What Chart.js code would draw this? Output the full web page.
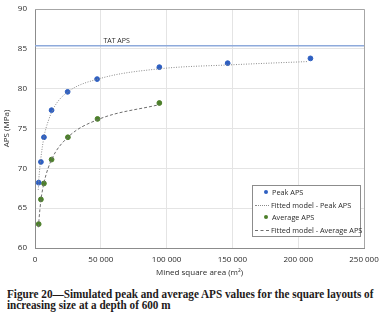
<!DOCTYPE html>
<html>
<head>
<meta charset="utf-8">
<script src="https://cdn.jsdelivr.net/npm/chart.js@4/dist/chart.umd.min.js"></script>
<style>
  body { margin: 0; background: #fff; width: 382px; height: 319px; overflow: hidden; position: relative; }
  #wrap { position: absolute; left: 0; top: 0; width: 382px; height: 285px; }
  #legend { position: absolute; left: 252px; top: 185px; width: 109px; height: 52px; border: 1px solid #8c8c8c;
            background: #fff; font-family: "Open Sans", sans-serif; font-size: 7.3px; color: #2a2a2a; box-sizing: border-box; }
  .row { position: absolute; left: 0; height: 12px; line-height: 12px; white-space: nowrap; }
  .dot { position: absolute; width: 4px; height: 4px; border-radius: 2px; top: 4px; left: 11px; }
  .ln { position: absolute; top: 6px; left: 2px; width: 14px; height: 0; }
  .txt { position: absolute; }
  #caption { position: absolute; left: 7px; top: 288.5px; width: 420px; font-family: "Liberation Serif", serif;
             font-weight: bold; font-size: 12.5px; line-height: 11px; color: #231a1a; white-space: nowrap;
             transform: scaleX(0.895); transform-origin: 0 0; }
</style>
</head>
<body>
<div id="wrap"><canvas id="c"></canvas></div>
<div id="legend">
  <div class="row" style="top:0px"><span class="dot" style="background:#2e5fc1"></span><span class="txt" style="left:19px">Peak APS</span></div>
  <div class="row" style="top:12.5px"><span class="ln" style="border-top:1px dotted #8a8a8a"></span><span class="txt" style="left:18px">Fitted model - Peak APS</span></div>
  <div class="row" style="top:25px"><span class="dot" style="background:#4c7f2a"></span><span class="txt" style="left:19px">Average APS</span></div>
  <div class="row" style="top:37.5px"><span class="ln" style="border-top:1px dashed #6e6e6e"></span><span class="txt" style="left:18px">Fitted model - Average APS</span></div>
</div>
<div id="caption">Figure 20—Simulated peak and average APS values for the square layouts of<br>increasing size at a depth of 600 m</div>
<script>
// mined square area (m2) and APS (MPa)
const peakArea = [2800, 4500, 6800, 12600, 24800, 47200, 94500, 146400, 209300];
const peakAPS = [68.2, 70.8, 73.9, 77.3, 79.6, 81.2, 82.7, 83.2, 83.8];
const avgArea = [2800, 4500, 6800, 12600, 25000, 47500, 94500];
const avgAPS = [63.0, 66.1, 68.1, 71.1, 73.9, 76.2, 78.2];

// fitted model curves
const peakFitArea = [2500, 3000, 4000, 5000, 7000, 10000, 15000, 25000, 50000, 95000, 150000, 207000];
const peakFitAPS = [67.3, 68.8, 70.6, 72.0, 74.1, 75.9, 77.8, 79.6, 81.3, 82.5, 83.0, 83.4];
const avgFitArea = [2600, 3000, 4500, 7000, 12600, 25000, 47500, 94500];
const avgFitAPS = [62.6, 63.5, 66.0, 68.3, 71.1, 73.9, 76.1, 78.0];

const tatAPS = 85.4;
const xTicks = [0, 50000, 100000, 150000, 200000, 250000];

const pts = (xs, ys) => xs.map((x, i) => ({ x: x, y: ys[i] }));
const fmt = v => v === 0 ? '0' : String(v).replace(/\B(?=(\d{3})+(?!\d))/g, ' ');

const tatLabel = {
  id: 'tatLabel',
  afterDatasetsDraw(chart) {
    const ctx = chart.ctx;
    const x = chart.scales.x.getPixelForValue(62000);
    const y = chart.scales.y.getPixelForValue(tatAPS);
    ctx.save();
    ctx.font = '7px "Open Sans", sans-serif';
    ctx.fillStyle = '#2a2a2a';
    ctx.textAlign = 'center';
    ctx.textBaseline = 'bottom';
    ctx.fillText('TAT APS', x, y - 1.5);
    ctx.restore();
  }
};

new Chart(document.getElementById('c'), {
  type: 'scatter',
  data: {
    datasets: [
      { label: 'TAT APS', data: pts([0, 250000], [tatAPS, tatAPS]), showLine: true, borderColor: '#8eaadb',
        borderWidth: 1.5, pointRadius: 0 },
      { label: 'Fitted model - Peak APS', data: pts(peakFitArea, peakFitAPS), showLine: true, borderColor: '#8a8a8a',
        borderWidth: 1, borderDash: [1, 1.5], pointRadius: 0, cubicInterpolationMode: 'monotone' },
      { label: 'Fitted model - Average APS', data: pts(avgFitArea, avgFitAPS), showLine: true, borderColor: '#6e6e6e',
        borderWidth: 1, borderDash: [3, 2], pointRadius: 0, cubicInterpolationMode: 'monotone' },
      { label: 'Peak APS', data: pts(peakArea, peakAPS), backgroundColor: '#2e5fc1', borderColor: '#2e5fc1',
        pointRadius: 2.4 },
      { label: 'Average APS', data: pts(avgArea, avgAPS), backgroundColor: '#4c7f2a', borderColor: '#4c7f2a',
        pointRadius: 2.4 }
    ]
  },
  options: {
    responsive: true,
    maintainAspectRatio: false,
    animation: false,
    layout: { padding: { left: 0, top: 9, right: 18, bottom: 4 } },
    plugins: { legend: { display: false }, tooltip: { enabled: false } },
    scales: {
      x: {
        type: 'linear', min: 0, max: 250000,
        afterBuildTicks: s => { s.ticks = xTicks.map(v => ({ value: v })); },
        afterFit: s => { s.height = 33; s.paddingRight = 0; s.paddingLeft = 0; },
        grid: { color: '#e4e4e4', drawTicks: false },
        border: { color: '#8c8c8c', width: 1 },
        ticks: { padding: 7, color: '#2a2a2a', font: { family: 'Open Sans', size: 8 }, maxRotation: 0, callback: v => fmt(v) },
        title: { display: true, text: 'Mined square area (m²)', color: '#2a2a2a', padding: { top: 0, bottom: 3 },
                 font: { family: 'Open Sans', size: 8 } }
      },
      y: {
        min: 60, max: 90,
        afterFit: s => { s.width = 35; s.paddingTop = 0; s.paddingBottom = 0; },
        grid: { color: '#e4e4e4', drawTicks: false },
        border: { color: '#8c8c8c', width: 1 },
        ticks: { stepSize: 5, padding: 8, color: '#2a2a2a', font: { family: 'Open Sans', size: 8 } },
        title: { display: true, text: 'APS (MPa)', color: '#2a2a2a', padding: { top: 2, bottom: 0 },
                 font: { family: 'Open Sans', size: 8 } }
      }
    }
  },
  plugins: [tatLabel, {
    id: 'frame',
    afterDraw(chart) {
      const a = chart.chartArea, ctx = chart.ctx;
      ctx.save();
      ctx.strokeStyle = '#a6a6a6';
      ctx.lineWidth = 1;
      ctx.beginPath();
      ctx.moveTo(a.left, a.top + 0.5); ctx.lineTo(a.right + 0.5, a.top + 0.5); ctx.lineTo(a.right + 0.5, a.bottom);
      ctx.stroke();
      ctx.restore();
    }
  }]
});
</script>
</body>
</html>
